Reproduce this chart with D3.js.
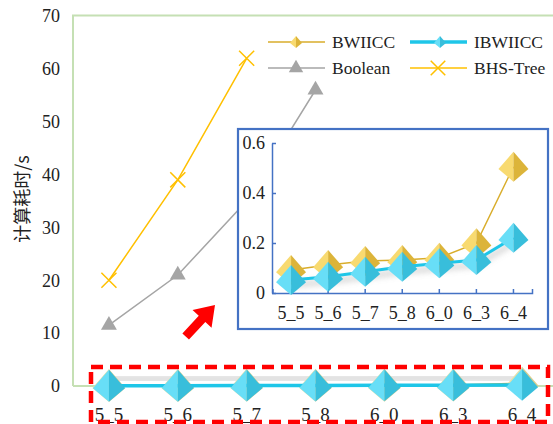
<!DOCTYPE html>
<html><head><meta charset="utf-8">
<script src="https://cdn.jsdelivr.net/npm/d3@7"></script>
<style>
html,body{margin:0;padding:0;background:#fff;}
svg{display:block;}
text{font-family:"Liberation Serif","Times New Roman",serif;fill:#222;}
</style></head>
<body>
<svg id="c" width="553" height="424"></svg>
<script>
// ---- data ----
const categories = ["5_5","5_6","5_7","5_8","6_0","6_3","6_4"];
const bwiicc   = [0.092, 0.112, 0.128, 0.132, 0.141, 0.199, 0.505];
const ibwiicc  = [0.052, 0.065, 0.085, 0.105, 0.119, 0.132, 0.221];
const booleanT = [11.5, 21, 35, 56, null, null, null];
const bhsTree  = [20, 39, 62, null, null, null, null];
const mainYTicks  = [0, 10, 20, 30, 40, 50, 60, 70];
const insetYTicks = [0, 0.2, 0.4, 0.6];
const yTitle = "计算耗时/s";
const legendItems = ["BWIICC", "IBWIICC", "Boolean", "BHS-Tree"];

// ---- styles ----
const C = {
  frame: "#c5e0b4", gold: "#d9ad2b", goldL: "#f8da70", goldD: "#dcb43a",
  cyan: "#1ec6e8", cyanL: "#68def7", cyanD: "#38bedb",
  gray: "#a5a5a5", orange: "#ffc000", blue: "#4472c4", red: "#ff0000"
};
const SERIF = "Liberation Serif, serif";

const svg = d3.select("#c");
const defs = svg.append("defs");
const f = defs.append("filter").attr("id","blur").attr("x","-20%").attr("y","-200%").attr("width","140%").attr("height","500%");
f.append("feGaussianBlur").attr("stdDeviation", 3);

// ---- scales ----
const xMain = d3.scaleBand().domain(categories).range([74.5, 556.5]);
const yMain = d3.scaleLinear().domain([0, 70]).range([386, 16]);
const xIn = d3.scaleBand().domain(categories).range([272.5, 532]);
const yIn = d3.scaleLinear().domain([0, 0.6]).range([293, 143]);
const cx = (s, d) => s(d) + s.bandwidth() / 2;

function pyramid(g, x, y, s, light, dark) {
  const h = s / 2;
  g.append("path").attr("d", `M${x},${y-h}L${x-h},${y+h*0.15}L${x},${y+h}Z`).attr("fill", light);
  g.append("path").attr("d", `M${x},${y-h}L${x+h},${y+h*0.15}L${x},${y+h}Z`).attr("fill", dark);
}

// ---- main frame ----
const gMain = svg.append("g");
gMain.append("path")
  .attr("d", `M73,386V${yMain(70)-0.5}H553`)
  .attr("fill","none").attr("stroke", C.frame).attr("stroke-width", 2);
gMain.append("line").attr("x1",73).attr("x2",553).attr("y1",yMain(0)).attr("y2",yMain(0))
  .attr("stroke", C.frame).attr("stroke-width", 2);

// main y axis labels
const yAx = gMain.append("g").attr("transform","translate(73,0)")
  .call(d3.axisLeft(yMain).tickValues(mainYTicks).tickSize(0).tickPadding(13))
  .attr("font-family", SERIF).attr("font-size", 18);
yAx.select(".domain").remove();
yAx.selectAll("text").attr("fill","#222");

// y title
svg.append("text").attr("transform","translate(21,199) rotate(-90)")
  .attr("text-anchor","middle").attr("dominant-baseline","central")
  .style("font-family","'Noto Sans CJK SC', sans-serif").style("font-size","18px").attr("fill","#333")
  .text(yTitle);

// main x labels
const xAx = gMain.append("g").attr("transform",`translate(0,${yMain(0)})`)
  .call(d3.axisBottom(xMain).tickSize(0).tickPadding(22))
  .attr("font-family", SERIF).attr("font-size", 19);
xAx.select(".domain").remove();
xAx.selectAll("text").attr("fill","#222");

// ---- inset ----
const gIn = svg.append("g");
gIn.append("rect").attr("x",238).attr("y",129).attr("width",310).attr("height",200)
  .attr("fill","#fff").attr("stroke", C.blue).attr("stroke-width", 2.2);

const inY = gIn.append("g").attr("transform","translate(272,0)")
  .call(d3.axisLeft(yIn).tickValues(insetYTicks).tickSizeInner(-4).tickSizeOuter(0).tickPadding(7)
    .tickFormat(d => d === 0 ? "0" : d3.format(".1f")(d)))
  .attr("font-family", SERIF).attr("font-size", 18);
inY.selectAll("line,path").attr("stroke", C.blue).attr("stroke-width", 1.5);
inY.selectAll("text").attr("fill","#222");

const inX = gIn.append("g").attr("transform","translate(0,293)")
  .call(d3.axisBottom(xIn).tickSizeInner(-4).tickSizeOuter(-4).tickPadding(13))
  .attr("font-family", SERIF).attr("font-size", 18);
inX.selectAll("line,path").attr("stroke", C.blue).attr("stroke-width", 1.5);
inX.selectAll("text").attr("fill","#222");

const lineIn = d3.line().x((d,i) => cx(xIn, categories[i])).y(d => yIn(d));
gIn.append("path").attr("d", lineIn(bwiicc)).attr("fill","none").attr("stroke", C.gold).attr("stroke-width",1.5);
bwiicc.forEach((v,i) => pyramid(gIn, cx(xIn, categories[i]), yIn(v), 30, C.goldL, C.goldD));
gIn.append("path").attr("d", lineIn(ibwiicc)).attr("fill","none").attr("stroke","#888").attr("stroke-opacity",0.45)
  .attr("stroke-width",4).attr("transform","translate(0,5)").attr("filter","url(#blur)");
gIn.append("path").attr("d", lineIn(ibwiicc)).attr("fill","none").attr("stroke", C.cyan).attr("stroke-width",3);
ibwiicc.forEach((v,i) => pyramid(gIn, cx(xIn, categories[i]), yIn(v), 30, C.cyanL, C.cyanD));

// ---- main series ----
const lineMain = d3.line().defined(d => d != null).x((d,i) => cx(xMain, categories[i])).y(d => yMain(d));
gMain.append("path").attr("d", lineMain(ibwiicc)).attr("fill","none").attr("stroke","#999").attr("stroke-opacity",0.35)
  .attr("stroke-width",8).attr("transform","translate(0,-7)").attr("filter","url(#blur)");
gMain.append("path").attr("d", lineMain(bwiicc)).attr("fill","none").attr("stroke", C.gold).attr("stroke-width",1.5);
bwiicc.forEach((v,i) => pyramid(gMain, cx(xMain, categories[i]), yMain(v), 33, "#e8e0a8", "#d8cf90"));
gMain.append("path").attr("d", lineMain(ibwiicc)).attr("fill","none").attr("stroke", C.cyan).attr("stroke-width",3.5);
ibwiicc.forEach((v,i) => pyramid(gMain, cx(xMain, categories[i]), yMain(v), 32, C.cyanL, C.cyanD));

// Boolean
gMain.append("path").attr("d", lineMain(booleanT)).attr("fill","none").attr("stroke", C.gray).attr("stroke-width",1.5);
const tri = d3.symbol().type(d3.symbolTriangle).size(110);
booleanT.forEach((v,i) => { if (v != null)
  gMain.append("path").attr("d", tri()).attr("fill", C.gray)
    .attr("transform", `translate(${cx(xMain, categories[i])},${yMain(v)})`); });

// BHS-Tree
gMain.append("path").attr("d", lineMain(bhsTree)).attr("fill","none").attr("stroke", C.orange).attr("stroke-width",1.5);
const cross = d3.symbol().type(d3.symbolX).size(150);
bhsTree.forEach((v,i) => { if (v != null)
  gMain.append("path").attr("d", cross()).attr("fill","none").attr("stroke", C.orange).attr("stroke-width",1.5)
    .attr("transform", `translate(${cx(xMain, categories[i])},${yMain(v)})`); });

// ---- legend ----
const lg = svg.append("g").attr("font-family", SERIF).attr("font-size", 17.5);
const legPos = [[268,42],[410,42],[268,68],[410,68]];
legendItems.forEach((name,i) => {
  const [lx, ly] = legPos[i];
  const g = lg.append("g").attr("transform", `translate(${lx},${ly})`);
  const mx = 28;
  if (i === 0) {
    g.append("line").attr("x1",0).attr("x2",57).attr("stroke", C.gold).attr("stroke-width",1.5);
    pyramid(g, mx, 0, 12, C.goldL, C.goldD);
  } else if (i === 1) {
    g.append("line").attr("x1",0).attr("x2",57).attr("stroke", C.cyan).attr("stroke-width",3.5);
    pyramid(g, mx+2, 0, 12, C.cyanL, C.cyanD);
  } else if (i === 2) {
    g.append("line").attr("x1",0).attr("x2",57).attr("stroke", C.gray).attr("stroke-width",1.5);
    g.append("path").attr("d", d3.symbol().type(d3.symbolTriangle).size(90)()).attr("fill", C.gray)
      .attr("transform", `translate(${mx},0)`);
  } else {
    g.append("line").attr("x1",0).attr("x2",57).attr("stroke", C.orange).attr("stroke-width",1.5);
    g.append("path").attr("d", d3.symbol().type(d3.symbolX).size(140)()).attr("fill","none")
      .attr("stroke", C.orange).attr("stroke-width",1.5).attr("transform", `translate(${mx},0)`);
  }
  g.append("text").attr("x", 64).attr("dy","0.35em").text(name);
});

// ---- annotations: red arrow and dashed box ----
svg.append("path")
  .attr("d","M0,0L-19,-13L-19,-4.5L-43,-4.5L-43,4.5L-19,4.5L-19,13Z")
  .attr("fill", C.red)
  .attr("transform","translate(215,305) rotate(-47)");
svg.append("rect").attr("x",91).attr("y",367).attr("width",457).attr("height",55)
  .attr("fill","none").attr("stroke", C.red).attr("stroke-width",4.5).attr("stroke-dasharray","12,7");
</script>
</body></html>
